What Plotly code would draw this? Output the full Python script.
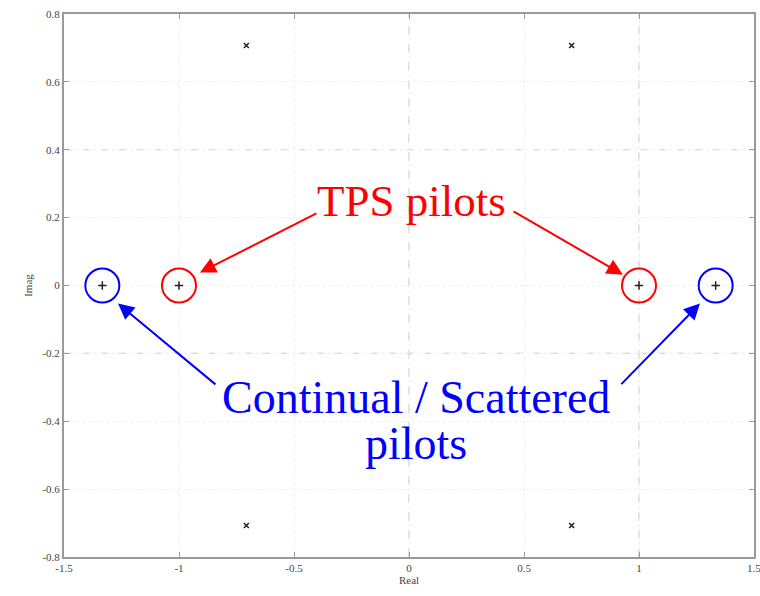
import plotly.graph_objects as go

# Constellation points
qpsk_re = [-0.7071, 0.7071, -0.7071, 0.7071]
qpsk_im = [0.7071, 0.7071, -0.7071, -0.7071]
pilot_re = [-4/3, -1.0, 1.0, 4/3]
pilot_im = [0.0, 0.0, 0.0, 0.0]
tps_re = [-1.0, 1.0]
tps_im = [0.0, 0.0]
cs_re = [-4/3, 4/3]
cs_im = [0.0, 0.0]

x_ticks = [-1.5, -1, -0.5, 0, 0.5, 1, 1.5]
x_labels = ["-1.5", "-1", "-0.5", "0", "0.5", "1", "1.5"]
y_ticks = [-0.8, -0.6, -0.4, -0.2, 0, 0.2, 0.4, 0.6, 0.8]
y_labels = ["-0.8", "-0.6", "-0.4", "-0.2", "0", "0.2", "0.4", "0.6", "0.8"]

SERIF = "Liberation Serif, DejaVu Serif, serif"
RED = "#ff0000"
BLUE = "#0000ff"

fig = go.Figure()

# circles
fig.add_trace(go.Scatter(x=tps_re, y=tps_im, mode="markers",
                         marker=dict(symbol="circle-open", size=34,
                                     line=dict(color=RED, width=2), color=RED),
                         hoverinfo="skip", showlegend=False))
fig.add_trace(go.Scatter(x=cs_re, y=cs_im, mode="markers",
                         marker=dict(symbol="circle-open", size=34,
                                     line=dict(color=BLUE, width=2), color=BLUE),
                         hoverinfo="skip", showlegend=False))
# black points
fig.add_trace(go.Scatter(x=qpsk_re, y=qpsk_im, mode="markers",
                         marker=dict(symbol="x-thin", size=5,
                                     line=dict(color="#222", width=1.5)),
                         showlegend=False))
fig.add_trace(go.Scatter(x=pilot_re, y=pilot_im, mode="markers",
                         marker=dict(symbol="cross-thin", size=6,
                                     line=dict(color="#222", width=1.5)),
                         showlegend=False))

# stronger dashed grid lines (visible in reference)
for xv in [0, 1]:
    fig.add_shape(type="line", xref="x", yref="paper", x0=xv, x1=xv, y0=0, y1=1,
                  line=dict(color="#cfcfcf", width=1.2, dash="dash"), layer="below")
for yv in [0.4, -0.2]:
    fig.add_shape(type="line", xref="paper", yref="y", x0=0, x1=1, y0=yv, y1=yv,
                  line=dict(color="#cfcfcf", width=1.2, dash="dash"), layer="below")

# arrows
arrows = [
    (-0.909, 0.038, -0.396, 0.215, RED),
    (0.930, 0.032, 0.448, 0.221, RED),
    (-1.265, -0.053, -0.835, -0.295, BLUE),
    (1.265, -0.053, 0.917, -0.295, BLUE),
]
for hx, hy, tx, ty, c in arrows:
    fig.add_annotation(x=hx, y=hy, ax=tx, ay=ty, xref="x", yref="y",
                       axref="x", ayref="y", text="", showarrow=True,
                       arrowhead=2, arrowsize=1.6, arrowwidth=2, arrowcolor=c)

fig.add_annotation(x=0.012, y=0.25, xref="x", yref="y", text="TPS pilots",
                   showarrow=False, font=dict(family=SERIF, size=45, color=RED))
fig.add_annotation(x=0.03, y=-0.33, xref="x", yref="y", text="Continual / Scattered",
                   showarrow=False, font=dict(family=SERIF, size=46, color=BLUE))
fig.add_annotation(x=0.03, y=-0.465, xref="x", yref="y", text="pilots",
                   showarrow=False, font=dict(family=SERIF, size=46, color=BLUE))

# last x tick label (cut by the page edge, as in the reference)
fig.add_annotation(x=x_ticks[-1], y=0, xref="x", yref="paper", text=x_labels[-1],
                   showarrow=False, yanchor="top", yshift=-3,
                   font=dict(family=SERIF, size=11, color="#444"))

axis_common = dict(showline=True, linecolor="#9a9a9a", linewidth=2, mirror="ticks",
                   ticks="inside", ticklen=5, tickcolor="#9a9a9a", tickwidth=1,
                   showgrid=True, gridcolor="#efefef", griddash="dot", zeroline=False,
                   automargin=False,
                   tickfont=dict(family=SERIF, size=11, color="#444"))

fig.update_layout(
    width=760, height=596,
    margin=dict(l=64, r=6, t=14, b=39),
    paper_bgcolor="white", plot_bgcolor="white",
    xaxis=dict(range=[-1.5, 1.5], tickvals=x_ticks, ticktext=x_labels,
               title=dict(text="Real", font=dict(family=SERIF, size=11, color="#444"),
                          standoff=2), **axis_common),
    yaxis=dict(range=[-0.8, 0.8], tickvals=y_ticks, ticktext=y_labels,
               title=dict(text="Imag", font=dict(family=SERIF, size=11, color="#444"),
                          standoff=8), **axis_common),
)

fig.write_html("out.html")
